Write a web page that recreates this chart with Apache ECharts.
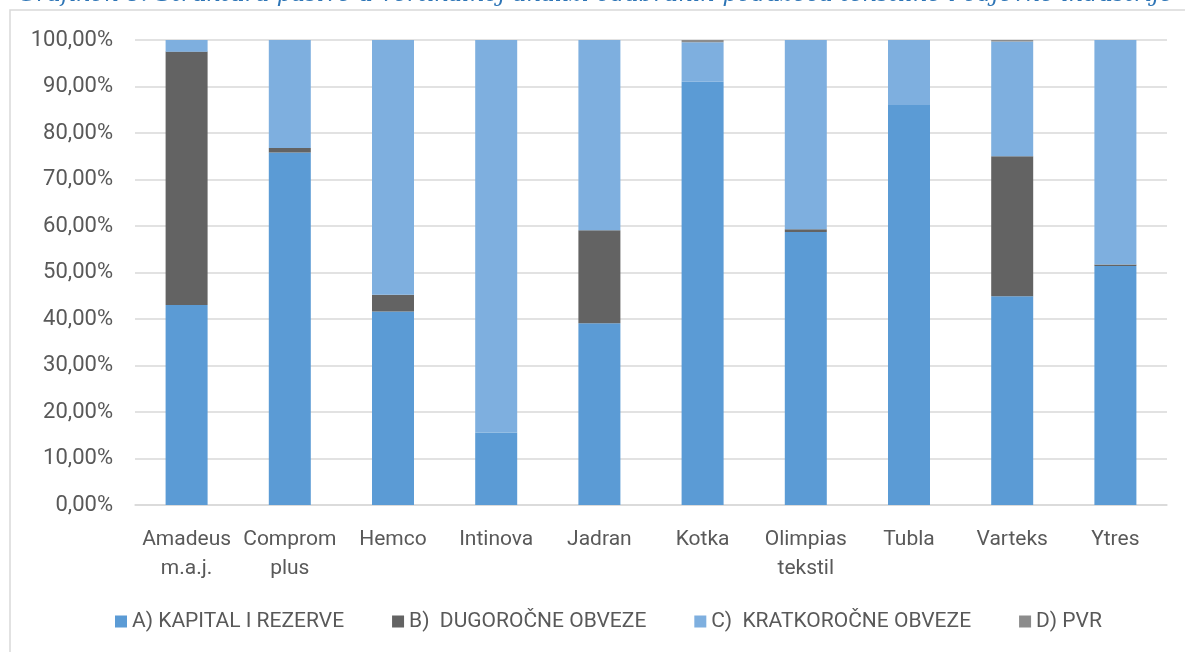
<!DOCTYPE html>
<html lang="hr">

<head>
    <meta charset="UTF-8">
    <title>Struktura pasive</title>
    <script src="https://cdn.jsdelivr.net/npm/echarts@6/dist/echarts.min.js"></script>
</head>

<body style="margin:0;background:#fff;">

    <div id="main" style="width: 1185px;height: 652px;"></div>

    <script type="text/javascript">
        // poduzeća (kategorije)
        var companies = ['Amadeus\nm.a.j.', 'Comprom\nplus', 'Hemco', 'Intinova', 'Jadran',
            'Kotka', 'Olimpias\ntekstil', 'Tubla', 'Varteks', 'Ytres'];

        // udjeli u pasivi, %
        var kapital = [43.0, 75.8, 41.6, 15.6, 39.1, 91.0, 58.7, 86.0, 44.9, 51.4];
        var dugorocne = [54.5, 1.0, 3.6, 0.0, 20.0, 0.0, 0.6, 0.0, 30.1, 0.3];
        var kratkorocne = [2.5, 23.2, 54.8, 84.4, 40.9, 8.5, 40.7, 14.0, 24.7, 48.3];
        var pvr = [0.0, 0.0, 0.0, 0.0, 0.0, 0.5, 0.0, 0.0, 0.3, 0.0];

        var seriesNames = ['A) KAPITAL I REZERVE', 'B)  DUGOROČNE OBVEZE', 'C)  KRATKOROČNE OBVEZE', 'D) PVR'];
        var colors = ['#5b9bd5', '#636363', '#7eafdf', '#8c8c8c'];

        var font = 'Roboto';
        var txt = '#595959';

        var myChart = echarts.init(document.getElementById('main'));

        function bar(name, data) {
            return {
                name: name,
                type: 'bar',
                stack: 'pasiva',
                barWidth: 42,
                data: data
            };
        }

        var option = {
            animation: false,
            color: colors,
            textStyle: { fontFamily: font },
            graphic: [{
                type: 'rect',
                shape: { x: 10, y: 10, width: 1400, height: 900 },
                style: { fill: 'none', stroke: '#d9d9d9', lineWidth: 1.5 },
                silent: true
            }, {
                // naslov je u izvorniku odrezan, vidi se samo donji dio
                type: 'text',
                left: 18,
                top: -16,
                style: {
                    text: 'Grafikon 8: Struktura pasive u vertikalnoj analizi odabranih poduzeća tekstilne i odjevne industrije',
                    font: 'italic 23px "DejaVu Serif"',
                    fill: '#2e75b6'
                },
                silent: true
            }],
            grid: { left: 135, right: 18, top: 40, bottom: 147 },
            legend: {
                bottom: 15,
                left: 110,
                itemGap: 48,
                itemWidth: 12,
                itemHeight: 12,
                icon: 'rect',
                textStyle: { fontSize: 21, color: txt, fontFamily: font },
                data: seriesNames
            },
            xAxis: {
                type: 'category',
                data: companies,
                axisLine: { lineStyle: { color: '#d9d9d9', width: 1.5 } },
                axisTick: { show: false },
                axisLabel: { fontSize: 21, color: txt, lineHeight: 29, margin: 20, interval: 0 }
            },
            yAxis: {
                type: 'value',
                min: 0,
                max: 100,
                interval: 10,
                axisLine: { show: false },
                axisTick: { show: false },
                splitLine: { lineStyle: { color: '#d9d9d9', width: 1.5 } },
                axisLabel: {
                    fontSize: 22,
                    color: txt,
                    margin: 22,
                    formatter: function (v) { return v.toFixed(2).replace('.', ',') + '%'; }
                }
            },
            series: [
                bar(seriesNames[0], kapital),
                bar(seriesNames[1], dugorocne),
                bar(seriesNames[2], kratkorocne),
                bar(seriesNames[3], pvr)
            ]
        };

        myChart.setOption(option);
    </script>
</body>

</html>
